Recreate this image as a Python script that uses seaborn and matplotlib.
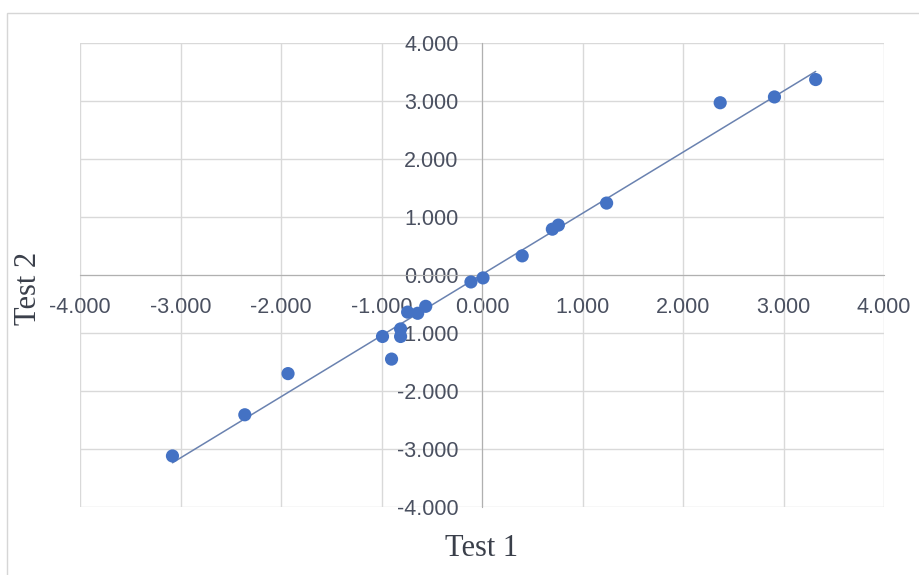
import numpy as np
import pandas as pd
import seaborn as sns
import matplotlib.pyplot as plt
from matplotlib.patches import Rectangle

# values
test1 = [-3.08, -2.36, -1.93, -0.99, -0.90, -0.81, -0.81, -0.74, -0.64, -0.56,
         -0.11, 0.01, 0.40, 0.70, 0.76, 1.24, 2.37, 2.91, 3.32]
test2 = [-3.12, -2.41, -1.70, -1.06, -1.45, -0.93, -1.06, -0.64, -0.66, -0.54,
         -0.12, -0.05, 0.33, 0.79, 0.86, 1.24, 2.97, 3.07, 3.37]
ticks = [-4, -3, -2, -1, 0, 1, 2, 3, 4]

df = pd.DataFrame({'Test 1': test1, 'Test 2': test2})

sns.set_style('white')
plt.rcParams['font.family'] = ['Liberation Sans', 'DejaVu Sans']

fig = plt.figure(figsize=(9.19, 5.75), dpi=100)
ax = fig.add_axes([80 / 919, 1 - 507 / 575, 804 / 919, 464 / 575])

sns.scatterplot(data=df, x='Test 1', y='Test 2', ax=ax, color='#4472C4',
                s=90, edgecolor='none', zorder=3)

# linear trendline over the data range
slope, intercept = np.polyfit(df['Test 1'], df['Test 2'], 1)
xs = np.array([df['Test 1'].min(), df['Test 1'].max()])
ax.plot(xs, slope * xs + intercept, color='#6a82b0', lw=1.1, zorder=2)

ax.set_xlim(-4, 4)
ax.set_ylim(-4, 4)
ax.set_xticks(ticks)
ax.set_yticks(ticks)
ax.set_xticklabels([f'{t:.3f}' for t in ticks])
ax.set_yticklabels([f'{t:.3f}' for t in ticks])
ax.grid(True, color='#d9d9d9', lw=1)
ax.set_axisbelow(True)

# axes crossing at the origin, Excel style
for side in ['top', 'right']:
    ax.spines[side].set_visible(False)
ax.spines['left'].set_position(('data', 0))
ax.spines['bottom'].set_position(('data', 0))
ax.spines['left'].set_color('#b0b0b0')
ax.spines['bottom'].set_color('#b0b0b0')
ax.tick_params(axis='both', length=0, labelsize=15.5, labelcolor='#4a5060')
ax.tick_params(axis='x', pad=16)
ax.tick_params(axis='y', pad=17)
ax.set_xlabel('')
ax.set_ylabel('')

fig.text(482 / 919, 1 - 548 / 575, 'Test 1', family='Liberation Serif',
         fontsize=22, color='#3a3f4a', ha='center', va='center')
fig.text(28 / 919, 1 - 288 / 575, 'Test 2', family='Liberation Serif',
         fontsize=22, color='#3a3f4a', ha='center', va='center', rotation=90)

# thin frame around the chart area
fig.patches.append(Rectangle((7 / 919, -0.1), 1.0, 1 - 13 / 575 + 0.1,
                             transform=fig.transFigure, fill=False,
                             edgecolor='#d6d6d6', lw=1))

fig.savefig('out.png', dpi=100)
